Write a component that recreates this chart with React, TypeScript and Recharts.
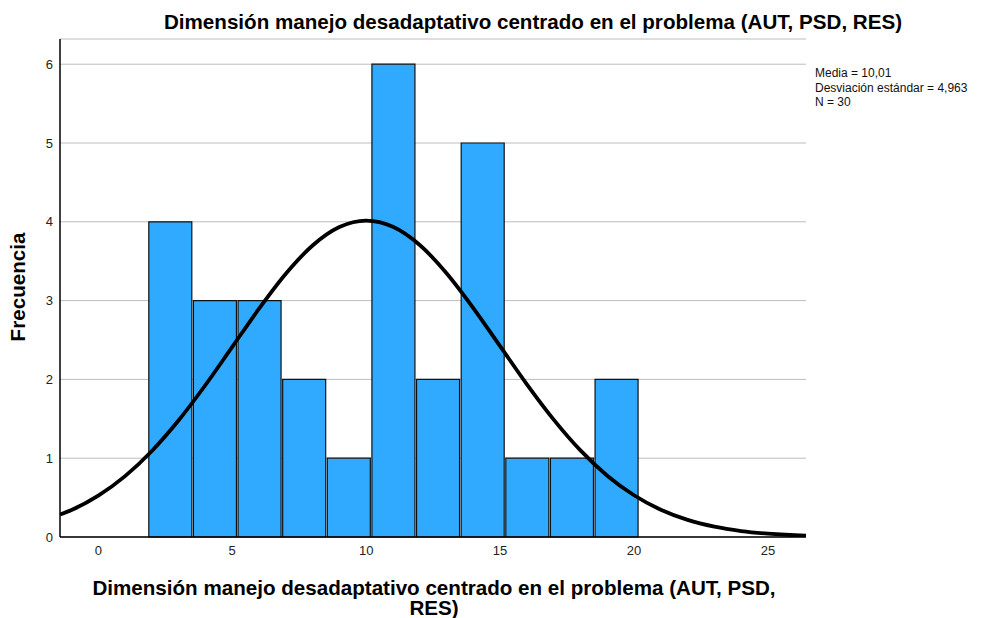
import React from "react";
import { ComposedChart, Line, XAxis, YAxis, CartesianGrid, ReferenceArea } from "recharts";

const binEdges = [1.855, 3.521, 5.187, 6.853, 8.519, 10.185, 11.851, 13.517, 15.183, 16.849, 18.515, 20.181];
const binCounts = [4, 3, 3, 2, 1, 6, 2, 5, 1, 1, 2];
const curveX = [-1.43, -1, 0, 1, 2, 3, 4, 5, 6, 7, 8, 9, 10, 11, 12, 13, 14, 15, 16, 17, 18, 19, 20, 21, 22, 23, 24, 25, 26, 26.42];
const curveY = [0.285, 0.343, 0.525, 0.773, 1.092, 1.481, 1.929, 2.413, 2.897, 3.341, 3.699, 3.933, 4.015, 3.936, 3.705, 3.348, 2.906, 2.422, 1.938, 1.49, 1.099, 0.778, 0.53, 0.346, 0.217, 0.131, 0.076, 0.042, 0.022, 0.017];
const xTicks = [0, 5, 10, 15, 20, 25];
const yTicks = [0, 1, 2, 3, 4, 5, 6];
const title = "Dimensión manejo desadaptativo centrado en el problema (AUT, PSD, RES)";
const xLabel1 = "Dimensión manejo desadaptativo centrado en el problema (AUT, PSD,";
const xLabel2 = "RES)";
const yLabel = "Frecuencia";
const stats = ["Media = 10,01", "Desviación estándar = 4,963", "N = 30"];

const curveData = curveX.map((x, i) => ({ x, y: curveY[i] }));
const gap = 0.03;

const font = "'Liberation Sans', Arial, sans-serif";

export default function App() {
  return (
    <div style={{ position: "absolute", left: 0, top: 0, width: 994, height: 618, background: "#fff", fontFamily: font }}>
      <ComposedChart
        width={994}
        height={618}
        data={curveData}
        margin={{ top: 39, right: 188, left: 0, bottom: 0 }}
      >
        <CartesianGrid horizontal vertical={false} stroke="#bdbdbd" strokeWidth={1} />
        <XAxis
          dataKey="x"
          type="number"
          domain={[-1.43, 26.42]}
          allowDataOverflow
          ticks={xTicks}
          height={81}
          tickLine={false}
          tickSize={0}
          axisLine={{ stroke: "#000", strokeWidth: 1.5 }}
          tick={{ fill: "#222", fontSize: 13, fontFamily: font }}
          tickMargin={9}
        />
        <YAxis
          type="number"
          domain={[0, 6.32]}
          allowDataOverflow
          ticks={yTicks}
          width={60}
          tickLine={false}
          tickSize={0}
          axisLine={{ stroke: "#000", strokeWidth: 1.5 }}
          tick={{ fill: "#222", fontSize: 13, fontFamily: font }}
          tickMargin={7}
        />
        {binCounts.map((c, i) => (
          <ReferenceArea
            key={i}
            x1={binEdges[i] + gap}
            x2={binEdges[i + 1] - gap}
            y1={0}
            y2={c}
            fill="#30aaff"
            fillOpacity={1}
            stroke="#111"
            strokeWidth={1.2}
            ifOverflow="visible"
          />
        ))}
        <Line
          dataKey="y"
          type="monotone"
          stroke="#000"
          strokeWidth={3.8}
          dot={false}
          activeDot={false}
          isAnimationActive={false}
        />
      </ComposedChart>
      <div style={{ position: "absolute", left: 0, width: 1066, top: 12, textAlign: "center", fontSize: 20.6, lineHeight: "20px", fontWeight: "bold", color: "#000", whiteSpace: "nowrap" }}>
        {title}
      </div>
      <div style={{ position: "absolute", left: 0, width: 868, top: 578, textAlign: "center", fontSize: 20.6, fontWeight: "bold", color: "#000", lineHeight: "20px", whiteSpace: "nowrap" }}>
        <div>{xLabel1}</div>
        <div>{xLabel2}</div>
      </div>
      <div style={{ position: "absolute", left: 18, top: 287, width: 0, height: 0 }}>
        <div style={{ position: "absolute", transform: "translate(-50%, -50%) rotate(-90deg)", fontSize: 20.6, lineHeight: "20px", fontWeight: "bold", whiteSpace: "nowrap", color: "#000" }}>
          {yLabel}
        </div>
      </div>
      <div style={{ position: "absolute", left: 815, top: 66, fontSize: 12, lineHeight: "14.5px", color: "#111" }}>
        {stats.map((s) => (
          <div key={s}>{s}</div>
        ))}
      </div>
    </div>
  );
}
